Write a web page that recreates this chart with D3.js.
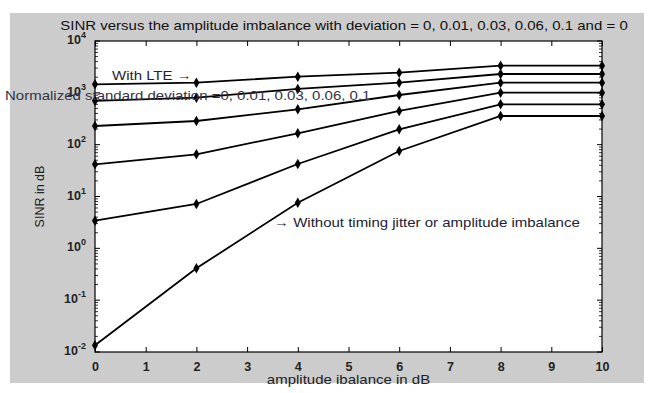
<!DOCTYPE html>
<html>
<head>
<meta charset="utf-8">
<script src="https://cdn.jsdelivr.net/npm/d3@7"></script>
<style>
  body { margin: 0; background: #fff; }
  svg { display: block; font-family: "Liberation Sans", Arial, sans-serif; }
</style>
</head>
<body>
<div id="chart"></div>
<script>
// data
var imbalance = [0, 2, 4, 6, 8, 10];
var withLte = [1460, 1570, 2050, 2450, 3340, 3340];
var dev001 = [700, 806, 1190, 1570, 2310, 2310];
var dev003 = [229, 286, 481, 908, 1570, 1570];
var dev006 = [41.8, 65.2, 166, 447, 1007, 1007];
var dev01 = [3.42, 7.17, 42.4, 198, 601, 601];
var noJitter = [0.0135, 0.412, 7.6, 75.5, 357, 357];
var xTicks = [0, 1, 2, 3, 4, 5, 6, 7, 8, 9, 10];
var yExponents = [-2, -1, 0, 1, 2, 3, 4];

var w = 648, h = 393;
var margin = { top: 41, right: 46, bottom: 41, left: 95 };
var stretch = 1.2; // the picture is a bit wider than tall

var svg = d3.select('#chart').append('svg')
  .attr('width', w)
  .attr('height', h);

// grey figure background
svg.append('rect')
  .attr('x', 10).attr('y', 13)
  .attr('width', 634).attr('height', 370)
  .attr('fill', '#cccccc');

var xScale = d3.scaleLinear()
  .domain([0, 10])
  .range([margin.left, w - margin.right]);

var yScale = d3.scaleLog()
  .domain([1e-2, 1e4])
  .range([h - margin.bottom, margin.top]);

var x0 = xScale.range()[0], x1 = xScale.range()[1];
var y0 = yScale.range()[0], y1 = yScale.range()[1];

svg.append('rect')
  .attr('x', x0).attr('y', y1)
  .attr('width', x1 - x0).attr('height', y0 - y1)
  .attr('fill', '#fff');

// x ticks (bottom and top, inside)
var xAxis = d3.axisBottom(xScale).tickValues(xTicks).tickSize(-5).tickPadding(10).tickFormat(d3.format('d'));
var gx = svg.append('g').attr('transform', 'translate(0,' + y0 + ')').call(xAxis);
gx.select('.domain').remove();
gx.selectAll('text').attr('font-size', 12.5).attr('fill', '#222').attr('font-weight', 'bold');

svg.append('g').attr('transform', 'translate(0,' + y1 + ')')
  .call(d3.axisTop(xScale).tickValues(xTicks).tickSize(-5).tickFormat(''))
  .select('.domain').remove();

// y ticks, majors and minors, both sides
var minors = [];
yExponents.slice(0, -1).forEach(function(e) {
  for (var k = 2; k <= 9; k++) minors.push(k * Math.pow(10, e));
});
var majors = yExponents.map(function(e) { return Math.pow(10, e); });

[[x0, 1], [x1, -1]].forEach(function(side) {
  var g = svg.append('g');
  g.selectAll('line.major').data(majors).enter().append('line')
    .attr('x1', side[0]).attr('x2', side[0] + side[1] * 5)
    .attr('y1', function(d) { return yScale(d); })
    .attr('y2', function(d) { return yScale(d); })
    .attr('stroke', '#000');
  g.selectAll('line.minor').data(minors).enter().append('line')
    .attr('x1', side[0]).attr('x2', side[0] + side[1] * 3)
    .attr('y1', function(d) { return yScale(d); })
    .attr('y2', function(d) { return yScale(d); })
    .attr('stroke', '#000').attr('stroke-width', 0.8);
});

// y tick labels 10^n
var ylab = svg.append('g').selectAll('text').data(yExponents).enter().append('text')
  .attr('x', x0 - 9)
  .attr('y', function(d) { return yScale(Math.pow(10, d)) + 3; })
  .attr('text-anchor', 'end')
  .attr('font-size', 12.5)
  .attr('font-weight', 'bold')
  .attr('fill', '#222');
ylab.append('tspan').text('10');
ylab.append('tspan').attr('dy', -6).attr('font-size', 9).text(function(d) { return d; });

// box
svg.append('rect')
  .attr('x', x0).attr('y', y1)
  .attr('width', x1 - x0).attr('height', y0 - y1)
  .attr('fill', 'none').attr('stroke', '#000').attr('stroke-width', 1.2);

// series
var series = [withLte, dev001, dev003, dev006, dev01, noJitter];
var line = d3.line()
  .x(function(d, i) { return xScale(imbalance[i]); })
  .y(function(d) { return yScale(d); });

var diamond = d3.symbol().type(d3.symbolDiamond).size(32);

series.forEach(function(s) {
  svg.append('path')
    .datum(s)
    .attr('d', line)
    .attr('fill', 'none')
    .attr('stroke', '#000')
    .attr('stroke-width', 1.8);
  svg.selectAll(null).data(s).enter().append('path')
    .attr('d', diamond)
    .attr('transform', function(d, i) {
      return 'translate(' + xScale(imbalance[i]) + ',' + yScale(d) + ')';
    })
    .attr('fill', '#000');
});

// texts, widened a little to match the picture
function label(x, y, txt, anchor, color, rot) {
  return svg.append('text')
    .attr('transform', 'translate(' + x + ',' + y + ')' + (rot ? ' rotate(-90)' : '') +
      (rot ? ' scale(1,1)' : ' scale(' + stretch + ',1)'))
    .attr('text-anchor', anchor)
    .attr('font-size', 12.5)
    .attr('fill', color)
    .text(txt);
}

label(344, 30, 'SINR  versus the amplitude imbalance with deviation = 0, 0.01, 0.03, 0.06, 0.1 and = 0', 'middle', '#111');
label(44, (y0 + y1) / 2, 'SINR  in dB', 'middle', '#222', true);
label((x0 + x1) / 2, 384, 'amplitude ibalance in dB', 'middle', '#222');
label(112, 80, 'With LTE \u2192', 'start', '#223');
label(5, 100, 'Normalized standard deviation =0, 0.01, 0.03, 0.06, 0.1', 'start', '#334');
label(274, 227, '\u2192 Without timing jitter or amplitude imbalance', 'start', '#223');
</script>
</body>
</html>
